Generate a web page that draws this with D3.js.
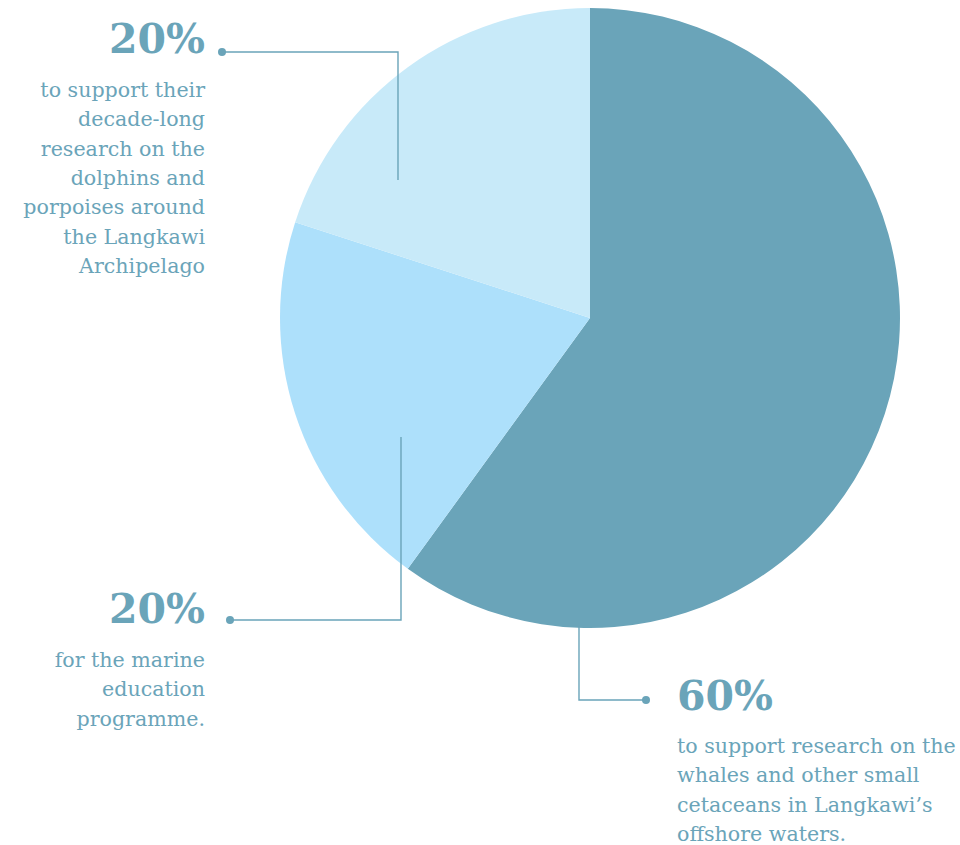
<!DOCTYPE html>
<html>
<head>
<meta charset="utf-8">
<script src="https://cdn.jsdelivr.net/npm/d3@7"></script>
<style>
  body { margin: 0; background: #fff; }
  svg { display: block; }
</style>
</head>
<body>
<script>
const wSvg = 960;
const hSvg = 845;

// data
const shares = [60, 20, 20];
const shareLabels = ["60%", "20%", "20%"];
const descriptions = [
  ["to support research on the", "whales and other small", "cetaceans in Langkawi\u2019s", "offshore waters."],
  ["for the marine", "education", "programme."],
  ["to support their", "decade-long", "research on the", "dolphins and", "porpoises around", "the Langkawi", "Archipelago"]
];
const sliceColors = ["#6aa4b9", "#ade0fb", "#c8eaf9"];

const textColor = "#6aa4b9";
const cx = 590, cy = 318, radius = 310;

// annotation layout: label block + leader line path (elbow) + dot
const labelLayout = [
  { x: 677, y: 710, anchor: "start", bodyY: 753,
    line: [[579, 626], [579, 700], [646, 700]] },
  { x: 205, y: 623, anchor: "end", bodyY: 667,
    line: [[401, 437], [401, 620], [230, 620]] },
  { x: 205, y: 53, anchor: "end", bodyY: 97,
    line: [[398, 180], [398, 52], [222, 52]] }
];

let svg = d3.select("body")
  .append("svg")
  .attr("width", wSvg)
  .attr("height", hSvg);

let pie = d3.pie().sort(null).value(d => d);
let arc = d3.arc().innerRadius(0).outerRadius(radius);

svg.append("g")
  .attr("transform", `translate(${cx}, ${cy})`)
  .selectAll("path")
  .data(pie(shares))
  .enter()
  .append("path")
  .attr("d", arc)
  .attr("fill", (d, i) => sliceColors[i]);

let line = d3.line();

let labels = svg.append("g").selectAll("g")
  .data(labelLayout)
  .enter()
  .append("g");

labels.append("path")
  .attr("d", d => line(d.line))
  .attr("fill", "none")
  .attr("stroke", textColor)
  .attr("stroke-width", 1.4);

labels.append("circle")
  .attr("cx", d => d.line[2][0])
  .attr("cy", d => d.line[2][1])
  .attr("r", 4)
  .attr("fill", textColor);

labels.append("text")
  .attr("x", d => d.x)
  .attr("y", d => d.y)
  .attr("text-anchor", d => d.anchor)
  .attr("font-family", "DejaVu Serif")
  .attr("font-weight", "bold")
  .attr("font-size", "41px")
  .attr("fill", textColor)
  .text((d, i) => shareLabels[i]);

labels.each(function(d, i) {
  let body = d3.select(this).append("text")
    .attr("text-anchor", d.anchor)
    .attr("font-family", "DejaVu Serif")
    .attr("font-size", "20.6px")
    .attr("fill", textColor);
  body.selectAll("tspan")
    .data(descriptions[i])
    .enter()
    .append("tspan")
    .attr("x", d.x)
    .attr("y", (t, j) => d.bodyY + j * 29.3)
    .text(t => t);
});
</script>
</body>
</html>
